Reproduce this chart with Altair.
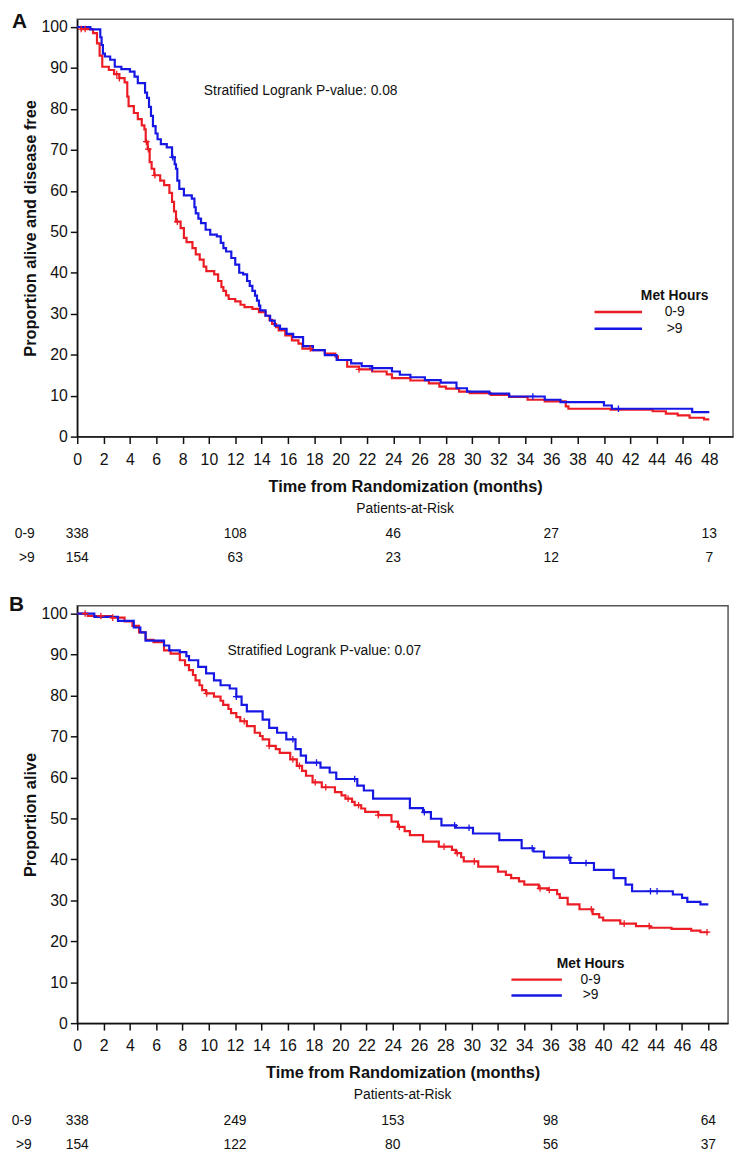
import altair as alt
import numpy as np
import pandas as pd

RED = "#ec1c24"
BLUE = "#1717e3"
FONT = "Liberation Sans"
INK = "#111111"

groups = ["0-9", ">9"]
x_ticks = [0, 2, 4, 6, 8, 10, 12, 14, 16, 18, 20, 22, 24, 26, 28, 30, 32, 34, 36, 38, 40, 42, 44, 46, 48]
y_ticks = [0, 10, 20, 30, 40, 50, 60, 70, 80, 90, 100]
risk_times = [0, 12, 24, 36, 48]

# ---------------- Panel A: disease-free survival ----------------
a_red_t = [0, 0.3, 1.2, 1.5, 1.7, 1.9, 2.4, 2.8, 3.2, 3.6, 3.8, 3.9, 4.3, 4.6, 4.9, 5.1, 5.2, 5.35,
           5.5, 5.65, 5.85, 6.3, 6.6, 7.0, 7.2, 7.35, 7.5, 7.85, 8.1, 8.3, 8.75, 9.0, 9.3, 9.6, 9.8,
           10.4, 10.7, 10.95, 11.1, 11.3, 11.5, 12.0, 12.4, 12.7, 13.3, 13.8, 14.3, 14.6, 14.8, 15.1,
           15.3, 15.8, 16.3, 16.8, 17.1, 17.8, 18.8, 19.6, 19.8, 20.5, 21.4, 22.4, 23.5, 23.9, 25.3,
           26.7, 27.5, 28.0, 29.0, 29.8, 31.4, 32.8, 34.2, 35.5, 37.1, 37.3, 40.5, 43.7, 44.7, 45.6,
           46.5, 47.6, 48.0]
a_red_s = [100, 99.5, 98.5, 96, 93, 90.3, 89.5, 88.5, 87.5, 86.5, 83, 80.7, 79, 77.5, 76, 75, 72, 70.2,
           67, 65.4, 63.8, 62.5, 61.4, 59.5, 57.3, 55, 52.5, 50.9, 48.5, 47.5, 46, 44.5, 43.2, 41.5, 40.4,
           39.6, 38, 36.5, 35.6, 34.5, 33.6, 33, 32.2, 31.6, 31.2, 30.4, 29.5, 28.5, 27.5, 26.7,
           25.9, 24.7, 23.5, 22.7, 21.5, 21.1, 20.3, 19.6, 18.7, 17.1, 16.4, 15.9, 15.2, 14.3, 13.7,
           13.0, 12.2, 11.7, 11.0, 10.6, 10.2, 9.7, 9.0, 8.6, 7.4, 6.8, 6.6, 6.2, 5.6, 5.2,
           4.6, 4.2, 4.2]
a_blue_t = [0, 1.0, 1.75, 1.85, 1.95, 2.1, 2.5, 2.85, 3.35, 4.0, 4.35, 4.6, 5.15, 5.3, 5.45, 5.6, 5.75,
            5.95, 6.1, 6.35, 6.8, 7.2, 7.4, 7.5, 7.6, 7.75, 8.1, 8.7, 8.9, 9.0, 9.2, 9.4, 9.75, 10.1,
            10.6, 10.9, 11.1, 11.3, 11.7, 12.0, 12.3, 12.6, 12.9, 13.1, 13.3, 13.5, 13.65, 13.8, 13.9,
            14.3, 14.65, 15.0, 15.4, 15.9, 16.4, 17.15, 17.9, 18.8, 19.7, 20.8, 21.6, 22.4, 23.9, 24.5,
            25.3, 26.4, 27.6, 28.8, 29.6, 31.3, 32.8, 35.5, 36.7, 40.0, 40.6, 46.7, 48.0]
a_blue_s = [100, 99.4, 97.5, 95.6, 93.5, 92.8, 92, 90.3, 89.7, 89.1, 87.9, 86.3, 84, 82.7, 80.5, 78.3, 75.8,
            74, 72.6, 71.4, 70.6, 68.2, 66.5, 65.4, 62.5, 60.5, 58.9, 58.1, 56, 54.5, 53.2, 52.1, 50.5, 49.3,
            48.9, 47.3, 46, 45.2, 43.6, 42.0, 40.0, 39.6, 38, 36.8, 35.6, 34.4, 33.2, 32, 30.8,
            29.5, 28.3, 27.1, 26.3, 25.1, 24.3, 22.1, 21.1, 19.9, 18.7, 17.9, 17.2, 16.7, 15.9, 15.1,
            14.5, 13.8, 13.2, 11.8, 11.0, 10.5, 9.8, 9.0, 8.4, 7.6, 6.8, 6.0, 6.0]
a_red_cens = [0.3, 0.6, 3.0, 3.2, 5.25, 5.4, 5.9, 7.6, 17.7, 21.4]
a_blue_cens = [7.25, 22.4, 34.6, 41.1]
a_risk_red = [338, 108, 46, 27, 13]
a_risk_blue = [154, 63, 23, 12, 7]

# ---------------- Panel B: overall survival ----------------
b_red_t = [0, 0.8, 2.6, 3.6, 4.2, 4.7, 5.2, 5.8, 6.6, 7.1, 7.8, 8.2, 8.5, 8.8, 9.0, 9.3, 9.5, 9.8, 10.4,
           10.9, 11.1, 11.5, 11.7, 12.1, 12.4, 12.9, 13.5, 13.9, 14.1, 14.6, 15.1, 15.4, 16.2, 16.7, 17.1,
           17.4, 17.9, 18.6, 19.6, 20.1, 20.4, 20.9, 21.1, 21.6, 21.9, 22.9, 23.9, 24.4, 24.9, 25.3, 26.3,
           27.5, 28.5, 28.8, 29.2, 29.4, 30.5, 32.0, 32.6, 33.0, 33.6, 34.0, 35.1, 35.8, 36.5, 36.7, 37.3,
           38.2, 39.2, 39.7, 40.0, 41.3, 42.5, 43.6, 45.2, 46.7, 47.4, 48.0]
b_red_s = [100, 99.4, 99, 98.1, 97, 95.4, 93.6, 93, 91, 90.2, 88.6, 87.4, 86.2, 85, 83.7, 82.5, 81.3, 80.5, 79.7,
           78.7, 77.7, 76.7, 75.7, 74.7, 73.7, 72.5, 70.9, 70.1, 69.3, 67.7, 66.9, 66.0, 64.4, 62.8, 61.6,
           60.4, 58.8, 57.6, 56.4, 55.6, 54.8, 54.0, 53.2, 52.4, 51.6, 50.8, 49.2, 47.9, 46.9, 45.9, 44.3,
           43.1, 42.3, 41.5, 40.5, 39.5, 38.2, 37.0, 36.2, 35.4, 34.6, 33.8, 32.9, 32.5, 31.5, 30.6, 29.0,
           27.8, 26.6, 25.8, 25.1, 24.3, 23.7, 23.3, 23.0, 22.6, 22.2, 22.2]
b_blue_t = [0, 1.3, 3.1, 4.3, 4.8, 5.2, 6.6, 7.0, 7.8, 8.3, 8.5, 9.2, 9.8, 10.4, 10.9, 11.6, 12.1, 12.5, 12.9,
            14.1, 14.6, 15.2, 15.9, 16.6, 17.0, 17.4, 18.5, 19.2, 19.7, 21.3, 21.8, 22.5, 25.3, 26.3, 26.9,
            27.7, 28.8, 30.1, 32.1, 33.8, 34.7, 35.5, 37.5, 39.3, 40.8, 41.7, 42.2, 45.3, 46.0, 46.4, 47.4, 48.0]
b_blue_s = [100, 99.2, 98.2, 96.6, 95.4, 93.4, 92.2, 91, 90.6, 89.6, 88.6, 87, 85.4, 83.7, 82.5, 81.7, 79.7, 77.7, 76.1,
            74.1, 72.1, 70.9, 69.3, 66.9, 65.3, 63.6, 62.4, 61.2, 59.6, 58, 56.8, 54.8, 52.5, 51.5, 49.9,
            48.3, 47.7, 46.3, 44.7, 42.7, 41.9, 40.4, 39.1, 37.4, 35.4, 33.8, 32.2, 31.4, 30.6, 29.6, 29.0, 29.0]
b_red_cens = [0.6, 1.8, 2.7, 9.85, 12.7, 14.6, 16.4, 16.9, 18.1, 18.9, 20.6, 21.4, 22.9, 24.5,
              27.9, 28.9, 30.2, 35.2, 35.9, 39.1, 41.6, 43.5, 47.9]
b_blue_cens = [12.1, 16.4, 18.2, 21.1, 26.4, 28.7, 29.8, 34.6, 37.4, 38.7, 43.6, 44.1]
b_risk_red = [338, 249, 153, 98, 64]
b_risk_blue = [154, 122, 80, 56, 37]

YMAX = 101.9
H = 422


def step_at(ts, ss, t):
    i = int(np.searchsorted(np.array(ts), t, side="right")) - 1
    return ss[max(i, 0)]


def one(text_row):
    return alt.Data(values=[text_row])


def panel(letter, rt, rs, bt, bs, rc, bc, risk_r, risk_b, ytitle, ptext, p_xy,
          leg, width, xmax, letter_x, letter_y, rowlab_x):
    curves = pd.DataFrame({
        "t": rt + bt,
        "s": rs + bs,
        "g": [groups[0]] * len(rt) + [groups[1]] * len(bt),
    })
    cens = pd.DataFrame({
        "t": rc + bc,
        "s": [step_at(rt, rs, c) for c in rc] + [step_at(bt, bs, c) for c in bc],
        "g": [groups[0]] * len(rc) + [groups[1]] * len(bc),
    })
    risk = pd.DataFrame({"t": risk_times, "r": risk_r, "b": risk_b})

    x = alt.X("t:Q", scale=alt.Scale(domain=[0, xmax], nice=False, zero=False),
              axis=alt.Axis(values=x_ticks, title="Time from Randomization (months)",
                            labelPadding=8, titlePadding=11, labelFlush=False))
    y = alt.Y("s:Q", scale=alt.Scale(domain=[0, YMAX], nice=False),
              axis=alt.Axis(values=y_ticks, title=ytitle, labelPadding=3, titlePadding=2))
    color = alt.Color("g:N", scale=alt.Scale(domain=groups, range=[RED, BLUE]), legend=None)

    lines = alt.Chart(curves).mark_line(interpolate="step-after", strokeWidth=2.2).encode(
        x=x, y=y, color=color)
    marks = alt.Chart(cens).mark_point(shape="M-1,0L1,0M0,-1L0,1", size=45, strokeWidth=1.3,
                                       filled=False, opacity=1).encode(x=x, y=y, color=color)

    txt = dict(font=FONT, color=INK)
    risk_r_t = alt.Chart(risk).mark_text(fontSize=14, baseline="middle", **txt).encode(
        x=x, y=alt.value(H + 99), text="r:Q")
    risk_b_t = alt.Chart(risk).mark_text(fontSize=14, baseline="middle", **txt).encode(
        x=x, y=alt.value(H + 123), text="b:Q")
    par = alt.Chart(one({"v": "Patients-at-Risk"})).mark_text(
        fontSize=14, baseline="middle", align="center", **txt).encode(
        x=alt.value(width / 2), y=alt.value(H + 73), text="v:N")
    row1 = alt.Chart(one({"v": groups[0]})).mark_text(
        fontSize=14, baseline="middle", align="right", **txt).encode(
        x=alt.value(rowlab_x), y=alt.value(H + 99), text="v:N")
    row2 = alt.Chart(one({"v": groups[1]})).mark_text(
        fontSize=14, baseline="middle", align="right", **txt).encode(
        x=alt.value(rowlab_x), y=alt.value(H + 123), text="v:N")
    let = alt.Chart(one({"v": letter})).mark_text(
        fontSize=21, fontWeight="bold", baseline="top", align="left", **txt).encode(
        x=alt.value(letter_x), y=alt.value(letter_y), text="v:N")
    pv = alt.Chart(one({"v": ptext})).mark_text(
        fontSize=14, baseline="middle", align="left", **txt).encode(
        x=alt.value(p_xy[0]), y=alt.value(p_xy[1]), text="v:N")

    lx1, lx2, lc, ty, y1, y2 = leg
    ltitle = alt.Chart(one({"v": "Met Hours"})).mark_text(
        fontSize=14, fontWeight="bold", baseline="middle", align="center", **txt).encode(
        x=alt.value(lc), y=alt.value(ty), text="v:N")
    lr = alt.Chart(one({"v": groups[0]})).mark_rule(color=RED, strokeWidth=2.5).encode(
        x=alt.value(lx1), x2=alt.value(lx2), y=alt.value(y1))
    lb = alt.Chart(one({"v": groups[1]})).mark_rule(color=BLUE, strokeWidth=2.5).encode(
        x=alt.value(lx1), x2=alt.value(lx2), y=alt.value(y2))
    lrt = alt.Chart(one({"v": groups[0]})).mark_text(
        fontSize=14, baseline="middle", align="center", **txt).encode(
        x=alt.value(lc), y=alt.value(y1), text="v:N")
    lbt = alt.Chart(one({"v": groups[1]})).mark_text(
        fontSize=14, baseline="middle", align="center", **txt).encode(
        x=alt.value(lc), y=alt.value(y2), text="v:N")

    return alt.layer(lines, marks, risk_r_t, risk_b_t, par, row1, row2, let, pv,
                     ltitle, lr, lb, lrt, lbt).properties(width=width, height=H)


pA = panel("A", a_red_t, a_red_s, a_blue_t, a_blue_s, a_red_cens, a_blue_cens,
           a_risk_red, a_risk_blue, "Proportion alive and disease free",
           "Stratified Logrank P-value: 0.08", (128, 73),
           (523, 571, 604, 280, 296, 313), 663, 49.8, -66, -8, -43)
pB = panel("B", b_red_t, b_red_s, b_blue_t, b_blue_s, b_red_cens, b_blue_cens,
           b_risk_red, b_risk_blue, "Proportion alive",
           "Stratified Logrank P-value: 0.07", (152, 46),
           (439, 490, 519, 362, 378, 394), 658, 49.5, -69, -12, -46)

chart = alt.concat(pA, pB, columns=1, spacing=27, align="none").properties(
    padding={"left": 0, "top": -4, "right": 0, "bottom": 0}
).configure(font=FONT).configure_view(
    stroke="#555555", strokeWidth=1.5
).configure_axis(
    grid=False, domainColor="#111111", domainWidth=1.5, tickColor="#111111", tickWidth=1.5,
    tickSize=7, labelFontSize=16, labelColor=INK, labelFont=FONT,
    titleFontSize=16.5, titleFontWeight="bold", titleColor=INK, titleFont=FONT
)

chart.save("out.html", embed_options={"renderer": "svg", "actions": False})
